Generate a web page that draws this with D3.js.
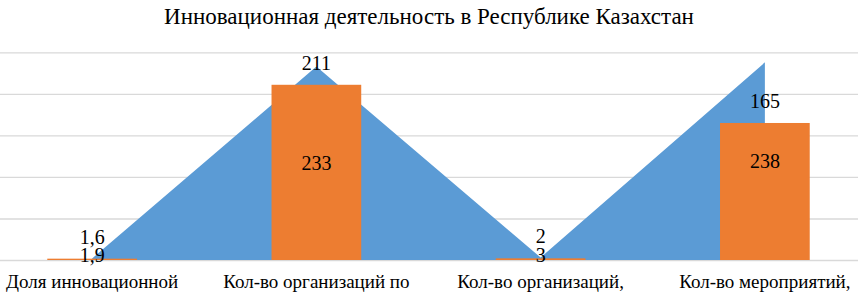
<!DOCTYPE html>
<html>
<head>
<meta charset="utf-8">
<script src="https://cdn.jsdelivr.net/npm/d3@7"></script>
</head>
<body style="margin:0">
<svg id="chart" width="858" height="297"></svg>
<script>
// данные диаграммы
var categories = ["Доля инновационной", "Кол-во организаций по", "Кол-во организаций,", "Кол-во мероприятий,"]
var barValues = [1.6, 211, 2, 165]     // оранжевые столбцы
var areaValues = [1.9, 233, 3, 238]    // синяя область
var barLabels = ["1,6", "211", "2", "165"]
var areaLabels = ["1,9", "233", "3", "238"]
var gridTicks = [0, 50, 100, 150, 200, 250]

var svg = d3.select("#chart")
var width = 858, height = 297

function addText(sel, size) {
  return sel.append("text")
    .attr("style", "font-family: 'Liberation Serif', Tinos, 'Times New Roman', FreeSerif, serif; font-size: " + size + "px")
    .attr("text-anchor", "middle")
}

// заголовок
addText(svg, 23)
  .attr("x", 429)
  .attr("y", 24)
  .text("Инновационная деятельность в Республике Казахстан")

var xScale = d3.scaleBand().domain(categories).range([-20, 877]).padding(0)
var yScale = d3.scaleLinear().domain([0, 250]).range([260, 52.4])
var barW = xScale.bandwidth() * 0.4
function cx(d) { return xScale(d) + xScale.bandwidth() / 2 }

// сетка
var grid = svg.append("g")
  .call(d3.axisLeft(yScale).tickValues(gridTicks).tickSize(-width).tickFormat(""))
grid.select(".domain").remove()
grid.selectAll("line")
  .attr("stroke", "#d9d9d9")
  .attr("stroke-width", 1.3)

// область
var areaData = categories.map(function (c, i) { return [c, areaValues[i]] })
var area = d3.area()
  .x(function (d) { return cx(d[0]) })
  .y0(yScale(0))
  .y1(function (d) { return yScale(d[1]) })

svg.append("path")
  .datum(areaData)
  .attr("d", area)
  .style("fill", "#5b9bd5")

// столбцы
svg.append("g")
  .selectAll("rect")
  .data(categories)
  .enter()
  .append("rect")
  .attr("x", function (d) { return cx(d) - barW / 2 })
  .attr("y", function (d, i) { return yScale(barValues[i]) })
  .attr("width", barW)
  .attr("height", function (d, i) { return yScale(0) - yScale(barValues[i]) })
  .style("fill", "#ed7d31")

var labels = svg.append("g")
categories.forEach(function (c, i) {
  // подпись столбца (над столбцом)
  addText(labels, 20)
    .attr("x", cx(c))
    .attr("y", yScale(barValues[i]) - 15)
    .text(barLabels[i])
  // подпись области (по центру)
  addText(labels, 20)
    .attr("x", cx(c))
    .attr("y", Math.min((yScale(0) + yScale(areaValues[i])) / 2, 255) + 7)
    .text(areaLabels[i])
  // подпись категории
  addText(labels, 19)
    .attr("x", cx(c))
    .attr("y", 288)
    .text(c)
})
</script>
</body>
</html>
